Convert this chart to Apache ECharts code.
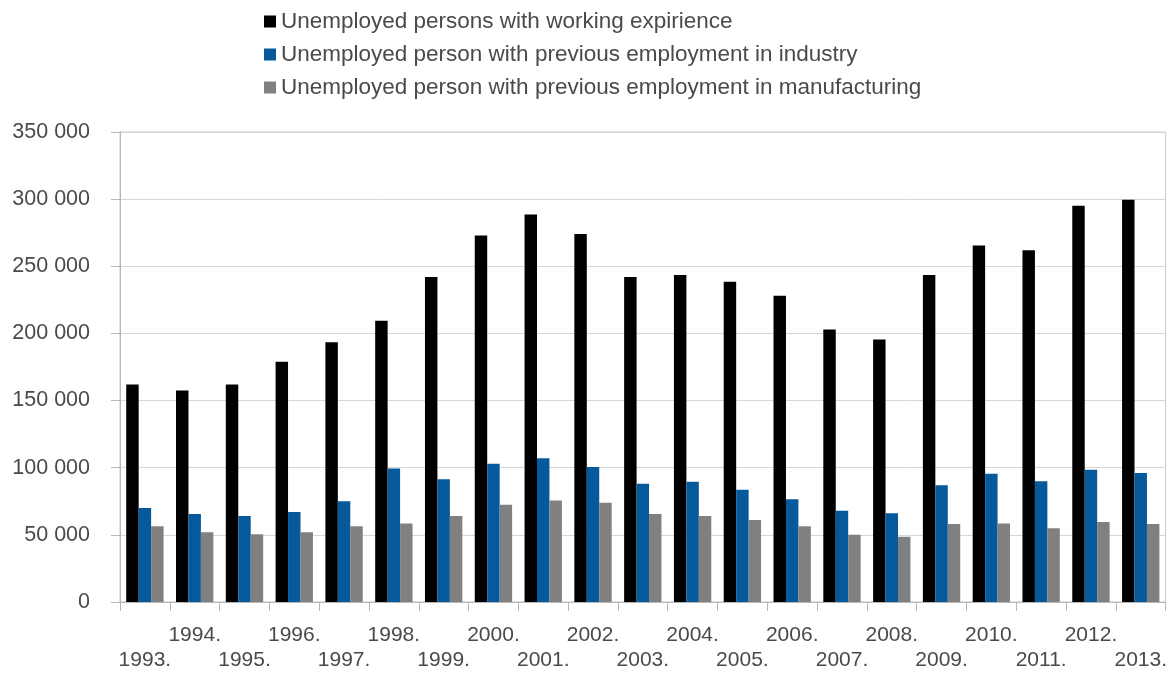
<!DOCTYPE html>
<html>
<head>
<meta charset="utf-8">
<title>Unemployed persons 1993–2013</title>
<script src="https://cdn.jsdelivr.net/npm/echarts@6/dist/echarts.min.js"></script>
<style>
  html, body { margin: 0; padding: 0; background: #ffffff; }
  #chart { width: 1170px; height: 673px; }
</style>
</head>
<body>
<div id="chart"></div>
<script>
// Years shown on the category axis
const years = ['1993.', '1994.', '1995.', '1996.', '1997.', '1998.', '1999.', '2000.', '2001.', '2002.',
  '2003.', '2004.', '2005.', '2006.', '2007.', '2008.', '2009.', '2010.', '2011.', '2012.', '2013.'];

// Series names
const nameExperience = 'Unemployed persons with working expirience';
const nameIndustry = 'Unemployed person with previous employment in industry';
const nameManufacturing = 'Unemployed person with previous employment in manufacturing';

// Values per year
const withExperience = [162000, 157500, 162000, 179000, 193500, 209500, 242000, 273000, 288500, 274000,
  242000, 243500, 238500, 228000, 203000, 195500, 243500, 265500, 262000, 295000, 299500];
const inIndustry = [70000, 65500, 64000, 67000, 75000, 99500, 91500, 103000, 107000, 100500,
  88000, 89500, 83500, 76500, 68000, 66000, 87000, 95500, 90000, 98500, 96000];
const inManufacturing = [56500, 52000, 50500, 52000, 56500, 58500, 64000, 72500, 75500, 74000,
  65500, 64000, 61000, 56500, 50000, 48500, 58000, 58500, 55000, 59500, 58000];

const FONT = '"Liberation Sans", Arial, sans-serif';
const TEXT = '#4a4a4a';

// Thousands separated by a space: 350 000
function spaced(v) {
  return String(v).replace(/\B(?=(\d{3})+(?!\d))/g, ' ');
}

const chart = echarts.init(document.getElementById('chart'), null, { renderer: 'canvas' });

chart.setOption({
  animation: false,
  backgroundColor: '#ffffff',
  color: ['#000000', '#065a9b', '#808080'],
  legend: {
    orient: 'vertical',
    left: 259,
    top: 5,
    itemWidth: 12,
    itemHeight: 12,
    itemGap: 10,
    icon: 'rect',
    textStyle: { fontFamily: FONT, fontSize: 22.5, color: TEXT, lineHeight: 23 },
    data: [nameExperience, nameIndustry, nameManufacturing]
  },
  grid: {
    left: 120,
    right: 4,
    top: 132,
    bottom: 69,
    show: true,
    borderColor: '#c8c8c8',
    borderWidth: 1
  },
  xAxis: {
    type: 'category',
    data: years,
    axisLine: { show: true, lineStyle: { color: '#b8b8b8', width: 1 } },
    axisTick: { show: true, length: 9, alignWithLabel: false, lineStyle: { color: '#b8b8b8' } },
    axisLabel: {
      interval: 0,
      margin: 21,
      fontFamily: FONT,
      fontSize: 21,
      lineHeight: 25,
      color: TEXT,
      formatter: function (value, index) {
        return index % 2 === 0 ? '\n' + value : value + '\n';
      }
    }
  },
  yAxis: {
    type: 'value',
    min: 0,
    max: 350000,
    interval: 50000,
    axisLine: { show: true, lineStyle: { color: '#b8b8b8', width: 1 } },
    axisTick: { show: true, length: 9, lineStyle: { color: '#b8b8b8' } },
    splitLine: { show: true, lineStyle: { color: '#d6d6d6', width: 1 } },
    axisLabel: {
      margin: 30,
      fontFamily: FONT,
      fontSize: 21.5,
      color: TEXT,
      formatter: spaced
    }
  },
  series: [
    { name: nameExperience, type: 'bar', data: withExperience, barGap: '0%', barCategoryGap: '25%' },
    { name: nameIndustry, type: 'bar', data: inIndustry, barGap: '0%', barCategoryGap: '25%' },
    { name: nameManufacturing, type: 'bar', data: inManufacturing, barGap: '0%', barCategoryGap: '25%' }
  ]
});
</script>
</body>
</html>
